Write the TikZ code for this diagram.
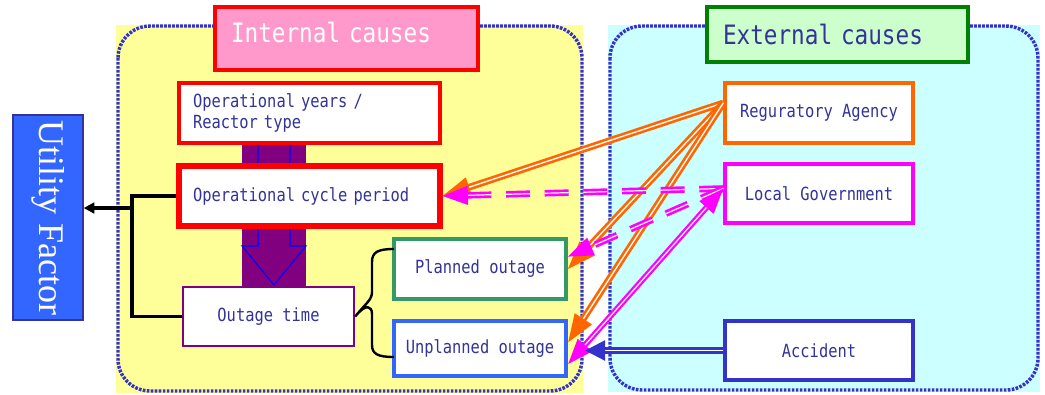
\documentclass[tikz,border=0pt]{standalone}
\usepackage{fontspec}
\usetikzlibrary{arrows.meta}
\newfontfamily\gothfont[FakeStretch=0.85]{DejaVu Sans Mono}
\newfontfamily\ufserif{Liberation Serif}
\definecolor{txtblue}{HTML}{333399}
\definecolor{dotblue}{HTML}{3333CC}
\definecolor{inbg}{HTML}{FFFF99}
\definecolor{exbg}{HTML}{CCFFFF}
\definecolor{pinkfill}{HTML}{FF99CC}
\definecolor{greenfill}{HTML}{CCFFCC}
\definecolor{darkgreen}{HTML}{008000}
\definecolor{planngreen}{HTML}{339966}
\definecolor{unplblue}{HTML}{3366FF}
\definecolor{regorange}{HTML}{FF6600}
\definecolor{govmagenta}{HTML}{FF00FF}
\definecolor{barpurple}{HTML}{800080}
\newcommand{\px}{0.75pt}
\begin{document}
\begin{tikzpicture}[x=0.75pt, y=-0.75pt,
    causebox/.style={draw, fill=white, inner sep=0pt, text=txtblue,
      font={\gothfont\fontsize{13.6pt}{15.75pt}\selectfont}},
    titlebox/.style={draw, line width=2.6pt, inner ysep=0pt, inner xsep=16*\px,
      align=left, font={\gothfont\fontsize{20pt}{22pt}\selectfont}},
    region/.style={draw=dotblue, line width=2.6pt, dash pattern=on 2pt off 1pt,
      rounded corners=32*\px},
    regtip/.tip={Triangle[length=21pt,width=15pt]},
    govtip/.tip={Triangle[length=19pt,width=14pt]},
    regarrow/.style={draw=regorange, double=white, double distance=1pt, line width=2pt,
      -regtip},
    govarrow/.style={draw=govmagenta, double=white, double distance=0.9pt, line width=1.7pt}]
  {
  \useasboundingbox (0,0) rectangle (1045,394);

  % Marking region of internal causes
  \fill [inbg] (116,25) rectangle (583,393);%
  \draw [region] (118,26) rectangle (582,391);%

  % Marking region of external causes
  \fill [exbg] (608,25) rectangle (1040,392);%
  \draw [region] (610,26) rectangle (1038,390);%

  % Drawing bar behind the internal boxes
  \fill [barpurple] (242,143) rectangle (306,287);%
  \draw [blue, line width=0.8pt] (258,143) -- (290,143) -- (290,246) -- (306,246)
    -- (274,285) -- (242,246) -- (258,246) -- cycle;%

  % Marking titles
  \node (inttitle) [titlebox, draw=red, fill=pinkfill, text=white, text depth=12*\px,
    minimum width=263*\px, minimum height=63*\px, text width=231*\px] at (346.5,38.5)
    {Internal causes};%
  \node (exttitle) [titlebox, draw=darkgreen, fill=greenfill, text=txtblue,
    minimum width=261*\px, minimum height=55*\px, text width=229*\px] at (837.5,34.5)
    {External causes};%

  % Marking Utility Factor
  \node (utility) [draw=txtblue, line width=1pt, fill=unplblue, text=white, rotate=-90,
    inner sep=0pt, minimum width=205*\px, minimum height=70*\px,
    font={\ufserif\fontsize{27pt}{28pt}\selectfont}] at (48,217.5) {Utility Factor};%

  % Marking internal boxes
  \node (opyears) [causebox, draw=red, line width=2.8pt, inner xsep=14*\px, align=left,
    text width=233*\px, minimum height=60*\px] at (309.5,113)
    {Operational years /\\Reactor type};%
  \node (cycle) [causebox, draw=red, line width=3.8pt, inner xsep=14*\px, align=left,
    text width=233*\px, minimum height=60*\px] at (309.5,196)
    {Operational cycle period};%
  \node (outage) [causebox, draw=barpurple, line width=1.8pt,
    minimum width=171*\px, minimum height=59*\px] at (268.5,316.5) {Outage time};%
  \node (planned) [causebox, draw=planngreen, line width=2.8pt,
    minimum width=172*\px, minimum height=60*\px] at (480,269) {Planned outage};%
  \node (unplanned) [causebox, draw=unplblue, line width=3.2pt,
    minimum width=172*\px, minimum height=55*\px] at (480,348.5) {Unplanned outage};%

  % Marking external boxes
  \node (reg) [causebox, draw=regorange, line width=2.6pt,
    minimum width=188*\px, minimum height=60*\px] at (819,113) {Reguratory Agency};%
  \node (localgov) [causebox, draw=govmagenta, line width=2.6pt,
    minimum width=188*\px, minimum height=59*\px] at (819,193.5) {Local Government};%
  \node (accident) [causebox, draw=dotblue, line width=2.6pt,
    minimum width=188*\px, minimum height=59*\px] at (819,350.5) {Accident};%

  % Drawing connector to Utility Factor
  \coordinate (ufjoin) at (132,208);%
  \draw [line width=2.4pt] (cycle.west) -| (ufjoin) |- (outage.west);%
  \draw [line width=2.4pt, -{Triangle[length=8pt,width=8pt]}] (ufjoin) -- (ufjoin -| utility.north);%

  % Drawing brace of Outage time
  \coordinate (bracetop) at (394,249);%
  \coordinate (bracebot) at (394,357);%
  \draw [line width=1.8pt] (bracetop) .. controls (378,249) and (372,252) .. (372,262)
    -- (372,292) .. controls (372,300) and (366,303) .. (outage.east)
    .. controls (366,303) and (372,306) .. (372,314) -- (372,345)
    .. controls (372,354) and (378,357) .. (bracebot);%

  % Drawing arrows of Reguratory Agency
  \draw [regarrow] (reg.174) -- (cycle.east);%
  \draw [regarrow] (reg.174) -- (planned.east);%
  \draw [regarrow] (reg.174) -- (unplanned.4);%

  % Drawing arrows of Local Government
  \draw [govarrow, line width=2pt, dash pattern=on 18pt off 11pt, -govtip] (localgov.177) -- (cycle.east);%
  \draw [govarrow, line width=2pt, dash pattern=on 18pt off 11pt, -govtip] (localgov.177) -- (planned.8);%
  \draw [govarrow, govtip-govtip] (localgov.177) -- (unplanned.-10);%

  % Drawing arrow of Accident
  \draw [draw=dotblue, double=white, double distance=1pt, line width=2pt,
    -{Triangle[length=15pt,width=15pt]}, shorten >=17*\px] (accident.west) -- (accident.west -| unplanned.east);%
  }
\end{tikzpicture}
\end{document}
